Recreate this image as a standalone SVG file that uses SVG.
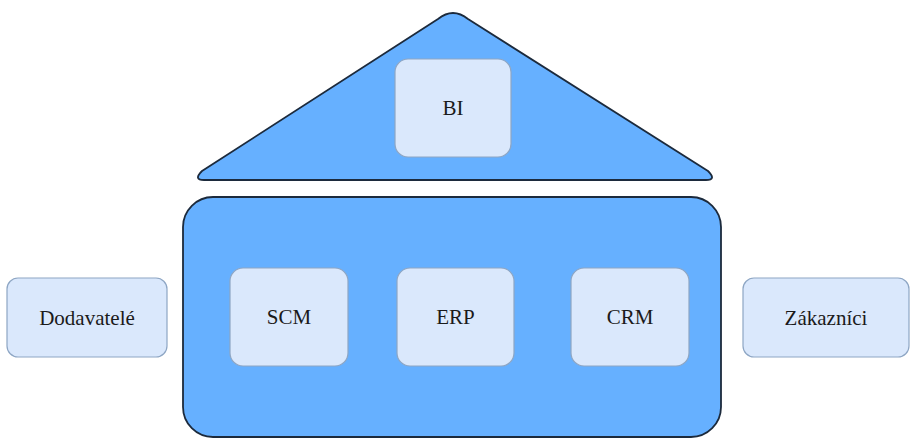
<svg xmlns="http://www.w3.org/2000/svg" width="913" height="438" viewBox="0 0 913 438">
  <style>
    .shell { fill: #66b0ff; stroke: #1c2a3c; stroke-width: 1.8; stroke-linejoin: round; }
    .box { fill: #dae8fc; stroke: #8ea6c4; stroke-width: 1.2; }
    .label { font-family: "Liberation Serif", "Times New Roman", serif; font-size: 21px; fill: #1a1a1a; text-anchor: middle; }
  </style>
  <rect width="913" height="438" fill="#ffffff"/>

  <!-- roof -->
  <g id="roof">
    <path class="shell" d="M 438 19 Q 453 7 468 19 L 708 171 Q 717 180 706 180 L 204 180 Q 193 180 202 171 Z"/>
  </g>

  <!-- main body -->
  <g id="body">
    <rect class="shell" x="183" y="197" width="538" height="240" rx="30" ry="30"/>
  </g>

  <g id="bi">
    <rect class="box" x="395" y="59" width="116" height="98" rx="13" ry="13"/>
    <text class="label" x="453" y="115">BI</text>
  </g>

  <g id="scm">
    <rect class="box" x="230" y="268" width="118" height="98" rx="13" ry="13"/>
    <text class="label" x="289" y="324">SCM</text>
  </g>

  <g id="erp">
    <rect class="box" x="397" y="268" width="117" height="98" rx="13" ry="13"/>
    <text class="label" x="455.5" y="324">ERP</text>
  </g>

  <g id="crm">
    <rect class="box" x="571" y="268" width="118" height="98" rx="13" ry="13"/>
    <text class="label" x="630" y="324">CRM</text>
  </g>

  <g id="dodavatele">
    <rect class="box" x="7" y="278" width="160" height="79" rx="11" ry="11"/>
    <text class="label" x="87" y="324.5">Dodavatelé</text>
  </g>

  <g id="zakaznici">
    <rect class="box" x="743" y="278" width="166" height="79" rx="11" ry="11"/>
    <text class="label" x="826" y="324.5">Zákazníci</text>
  </g>

  <g id="connectors"></g>
</svg>
